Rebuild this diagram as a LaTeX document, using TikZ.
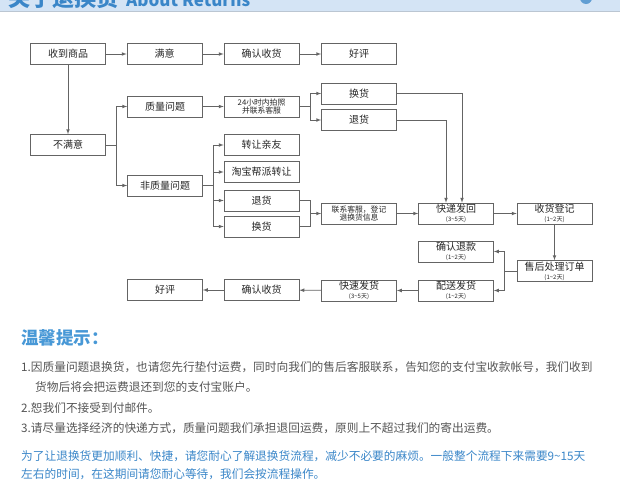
\documentclass[tikz,border=0pt]{standalone}
\usepackage{fontspec}
\setmainfont{Noto Sans CJK SC}
\usepackage{xcolor}
\usetikzlibrary{arrows}
\usetikzlibrary{math}
\definecolor{tblue}{RGB}{58,134,200}
\definecolor{ttitle}{RGB}{72,152,214}
\definecolor{tgray}{RGB}{85,85,85}
\definecolor{tline}{RGB}{100,100,100}
\definecolor{tband}{RGB}{212,228,245}
\newcommand{\daytag}[1]{\\[-1pt]{\fontsize{6}{7}\selectfont (#1)}}

\begin{document}
\begin{tikzpicture}[x=1pt,y=-1pt,
  box/.style={draw=tline, fill=white, line width=0.7pt, minimum width=\bw pt, minimum height=\bh pt,
    inner sep=0pt, align=center, text=black!85, font=\fontsize{10}{10}\selectfont},
  smallbox/.style={box, font=\fontsize{7.8}{8.5}\selectfont},
  link/.style={draw=tline, line width=0.7pt},
  flow/.style={link, -latex},
  note/.style={anchor=west, inner sep=0pt, text=tgray, font=\fontsize{11.7}{12}\selectfont},
]

\tikzmath{
\bw = 75;
\bh = 21;
\W = 620;
\H = 480;
}

\useasboundingbox (0,0) rectangle (\W,\H);

%banner:
\fill[tband] (0,0) rectangle (\W,11);
\draw[tband!70!gray, line width=0.6pt] (0,11.5) -- (\W,11.5);
\begin{scope}
\clip (0,0) rectangle (\W,11);
\node[anchor=base west, inner sep=0pt, text=tblue, font=\bfseries\fontsize{22}{22}\selectfont] (head) at (8,6) {关于退换货};
\node[anchor=base west, inner sep=0pt, text=tblue, font=\bfseries\fontsize{17}{17}\selectfont] (headen) at (126,6.5) {About Returns};
\fill[tblue!80] (586,-2) circle (6);
\end{scope}

%top row
\node[box] (recv0) at (68,54) {收到商品};
\node[box] (sat) at (164.5,54) {满意};
\node[box] (conf) at (261.5,54) {确认收货};
\node[box] (good) at (359,54) {好评};

%unsatisfied branch
\node[box] (unsat) at (68,145) {不满意};
\node[box] (qual) at (165,106.5) {质量问题};
\node[smallbox] (photo) at (261.5,106.5) {24小时内拍照\\[-1pt]并联系客服};
\node[box] (swapA) at (359,93.5) {换货};
\node[box] (retA) at (359,120) {退货};
\node[box] (nonq) at (165,185.5) {非质量问题};
\node[box] (gift) at (261.5,145) {转让亲友};
\node[box] (tb) at (261.5,172) {淘宝帮派转让};
\node[box] (retB) at (261.5,200.5) {退货};
\node[box] (swapB) at (261.5,226.5) {换货};

%returning flow
\node[smallbox] (reg) at (359,213.5) {联系客服，登记\\[-1pt]退换货信息};
\node[box] (back) at (456,213.5) {快递发回\daytag{3\textasciitilde5天}};
\node[box] (check) at (554.5,213.5) {收货登记\daytag{1\textasciitilde2天}};
\node[box] (refund) at (456,251.5) {确认退款\daytag{1\textasciitilde2天}};
\node[box] (proc) at (554.5,271) {售后处理订单\daytag{1\textasciitilde2天}};
\node[box] (ship) at (456,290.5) {配送发货\daytag{1\textasciitilde2天}};
\node[box] (exp) at (359,290.5) {快速发货\daytag{3\textasciitilde5天}};
\node[box] (conf2) at (261.5,290) {确认收货};
\node[box] (good2) at (165,290) {好评};

%connectors
\draw[flow] (recv0) -- (sat);
\draw[flow] (sat) -- (conf);
\draw[flow] (conf) -- (good);
\draw[flow] (recv0) -- (unsat);
\draw[flow] (unsat.east) -- ++(10,0) |- (qual);
\draw[flow] (unsat.east) -- ++(10,0) |- (nonq);
\draw[flow] (qual) -- (photo);
\draw[flow] (photo.east) -- ++(11,0) |- (swapA);
\draw[flow] (photo.east) -- ++(11,0) |- (retA);
\foreach \t in {gift,tb,retB,swapB}
  \draw[flow] (nonq.east) -- ++(10,0) |- (\t);
\draw[link] (retB.east) -- ++(11,0) |- (swapB.east);
\draw[flow] ([xshift=-11pt]reg.west) -- (reg.west);
\draw[flow] (swapA.east) -| ([xshift=6pt]back.north);
\draw[flow] (retA.east) -| ([xshift=-10pt]back.north);
\draw[flow] (reg) -- (back);
\draw[flow] (back) -- (check);
\draw[flow] (check) -- (proc);
\draw[flow] (proc.west) -- ++(-12,0) |- (refund);
\draw[flow] (proc.west) -- ++(-12,0) |- (ship);
\draw[flow] (ship) -- (exp);
\draw[flow] (exp) -- (conf2);
\draw[flow] (conf2) -- (good2);

%tips
\node[anchor=west, inner sep=0pt, text=ttitle, font=\bfseries\fontsize{17.5}{18}\selectfont] (tip) at (21,338) {温馨提示：};
\node[note] (l1) at (21,367) {1.因质量问题退换货，也请您先行垫付运费，同时向我们的售后客服联系，告知您的支付宝收款帐号，我们收到};
\node[note] (l1b) at (35,387) {货物后将会把运费退还到您的支付宝账户。};
\node[note] (l2) at (21,408) {2.恕我们不接受到付邮件。};
\node[note] (l3) at (21,428) {3.请尽量选择经济的快递方式，质量问题我们承担退回运费，原则上不超过我们的寄出运费。};
\node[note, text=tblue] (b1) at (21,456) {为了让退换货更加顺利、快捷，请您耐心了解退换货流程，减少不必要的麻烦。一般整个流程下来需要9\textasciitilde15天};
\node[note, text=tblue] (b2) at (21,474) {左右的时间，在这期间请您耐心等待，我们会按流程操作。};

\end{tikzpicture}
\end{document}
